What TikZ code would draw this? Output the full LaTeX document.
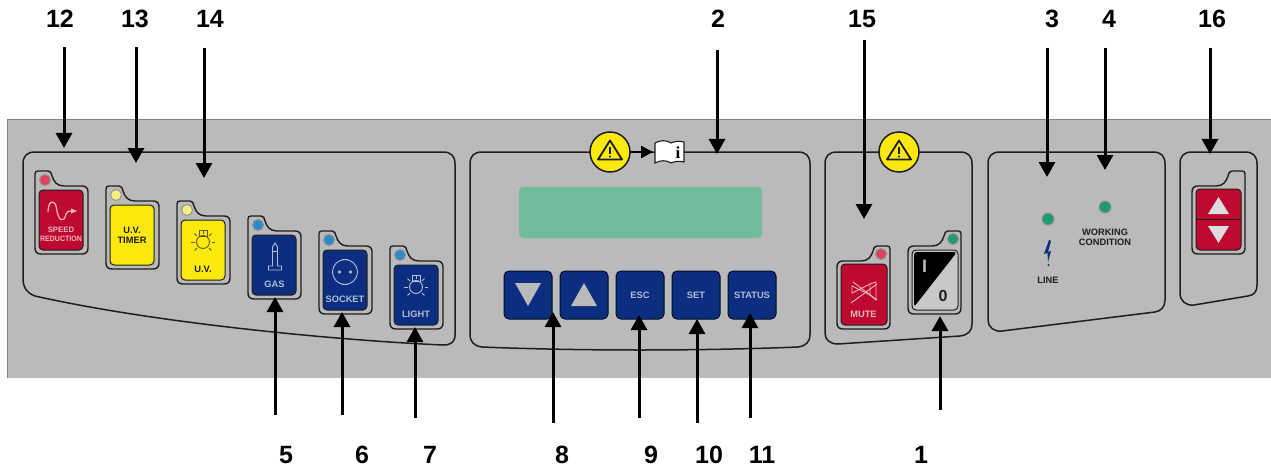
\documentclass[tikz,border=0pt]{standalone}
\usepackage{fontspec}
\setmainfont{Liberation Sans}
\newfontfamily\serifbf{Liberation Serif}
\usetikzlibrary{arrows.meta,calc}
\definecolor{panelgray}{HTML}{B9BAB9}
\definecolor{ink}{HTML}{1E1E1E}
\definecolor{btnred}{HTML}{BE0A30}
\definecolor{btnyellow}{HTML}{FBE80C}
\definecolor{btnnavy}{HTML}{0B2E80}
\definecolor{ledred}{HTML}{E2405F}
\definecolor{ledyellow}{HTML}{F6EE80}
\definecolor{ledblue}{HTML}{2A8ACB}
\definecolor{ledgreen}{HTML}{1C9C70}
\definecolor{lcdgreen}{HTML}{6FBB9C}
\definecolor{iconblue}{HTML}{B4BED4}
\definecolor{iconred}{HTML}{EDB4BC}
\tikzset{
  x=1pt,y=-1pt,
  arr/.style={draw=black,line width=3pt,-{Triangle[width=16pt,length=15pt]}},
  smallarr/.style={draw=black,line width=2.2pt,-{Triangle[width=12pt,length=12pt]}},
  num/.style={font=\fontsize{25}{25}\selectfont\bfseries,text=black,inner sep=0pt},
  group/.style={draw=ink,line width=1.5pt},
  keyline/.style={draw=ink,line width=1.4pt,fill=panelgray},
  btnface/.style={draw=ink,line width=1pt,rounded corners=4pt},
  navybtn/.style={fill=btnnavy,draw=black!70!btnnavy,line width=1pt,rounded corners=5pt},
  btxt/.style={font=\fontsize{9.3}{9.8}\selectfont\bfseries,inner sep=0pt,align=center},
  led/.style={circle,minimum size=#1,inner sep=0pt,draw=ink!25!panelgray,line width=1pt},
  warn/.style={circle,draw=ink,line width=1.5pt,fill=btnyellow,minimum size=40pt,inner sep=0pt},
  iconl/.style={line width=.9pt}
}
\newcommand\keyoutline{%
  \path[keyline] (0,3) .. controls (0,1) and (1,0) .. (3,0) -- (13,0) .. controls (16,0) and (16,2) .. (17,5)
    .. controls (19,11) and (22,15) .. (29,15) -- (47,15) .. controls (51,15) and (53,17) .. (53,21) -- (53,77)
    .. controls (53,81) and (51,83) .. (47,83) -- (6,83) .. controls (2,83) and (0,81) .. (0,77) -- cycle;
}
\newcommand\warnglyph[1]{%
  \draw[ink,line width=1.8pt,line join=round] ($(#1)+(0,-11.5)$) -- ($(#1)+(12,7.5)$) -- ($(#1)+(-12,7.5)$) -- cycle;
  \draw[ink,line width=2pt] ($(#1)+(0,-5)$) -- ($(#1)+(0,1.5)$);
  \fill[ink] ($(#1)+(0,4.5)$) circle (1.2pt);
}
\newcommand\bulb[3]{%
  \begin{scope}[shift={(#1,#2)},draw=#3,iconl]
    \draw (0,0) circle (6.5);
    \draw (-4,-6) rectangle (4,-12);
    \foreach \a in {0,45,135,180,225,270,315} {\draw (\a:8.5) -- (\a:12);}
  \end{scope}
}
\begin{document}
\begin{tikzpicture}
\path[use as bounding box,fill=white] (0,0) rectangle (1271,468);
\fill[panelgray] (7,119) rectangle (1271,378);
\draw[gray,line width=.6pt] (7,378) -- (7,119) -- (1271,119);

\draw[group] (35,152) -- (443,152) .. controls (451,152) and (455,156) .. (455,164) -- (455,335)
  .. controls (455,342) and (451,345) .. (443,345) .. controls (330,340) and (150,322) .. (35,296)
  .. controls (27,293) and (23,288) .. (23,278) -- (23,164) .. controls (23,156) and (27,152) .. (35,152) -- cycle;
\draw[group] (482,152) -- (798,152) .. controls (806,152) and (810,156) .. (810,164) -- (810,334)
  .. controls (810,342) and (806,346) .. (798,347) .. controls (700,351) and (580,351) .. (482,347)
  .. controls (474,346) and (470,342) .. (470,334) -- (470,164) .. controls (470,156) and (474,152) .. (482,152) -- cycle;
\draw[group] (837,152) -- (960,152) .. controls (968,152) and (972,156) .. (972,164) -- (972,324)
  .. controls (972,331) and (968,335) .. (960,336) -- (838,344) .. controls (830,344) and (825,340) .. (825,333)
  -- (825,164) .. controls (825,156) and (829,152) .. (837,152) -- cycle;
\draw[group] (1000,152) -- (1153,152) .. controls (1161,152) and (1165,156) .. (1165,164) -- (1165,300)
  .. controls (1165,307) and (1161,311) .. (1155,312) -- (1002,331) .. controls (994,332) and (988,327) .. (988,320)
  -- (988,164) .. controls (988,156) and (992,152) .. (1000,152) -- cycle;
\draw[group] (1192,152) -- (1245,152) .. controls (1253,152) and (1257,156) .. (1257,164) -- (1257,285)
  .. controls (1257,292) and (1254,295) .. (1248,296) -- (1194,305) .. controls (1186,306) and (1180,301) .. (1180,293)
  -- (1180,164) .. controls (1180,156) and (1184,152) .. (1192,152) -- cycle;

\begin{scope}[shift={(35,171)}]
  \keyoutline
  \draw[btnface,fill=btnred] (4,19) rectangle (48,79);
  \node[led=11pt,fill=ledred] (ledA) at (10,9) {};
  \draw[iconred,line width=1.2pt] (13,41) .. controls (13,29) and (20,28) .. (21.5,37) .. controls (23,50) and (29,53) .. (31,43) .. controls (32,40) and (34,40) .. (37,40);
  \fill[iconred] (36,37.5) -- (42,40) -- (36,42.5) -- cycle;
  \node[btxt,text=iconred,font=\fontsize{7.8}{9.2}\selectfont\bfseries] (tA) at (26,63) {SPEED\\\scalebox{.9}[1]{REDUCTION}};
\end{scope}
\begin{scope}[shift={(106,186)}]
  \keyoutline
  \draw[btnface,fill=btnyellow] (4,19) rectangle (48,79);
  \node[led=11pt,fill=ledyellow] (ledB) at (10,9) {};
  \node[btxt,text=ink] (tB) at (26,49) {U.V.\\TIMER};
\end{scope}
\begin{scope}[shift={(177,201)}]
  \keyoutline
  \draw[btnface,fill=btnyellow] (4,19) rectangle (48,79);
  \node[led=11pt,fill=ledyellow] (ledC) at (10,9) {};
  \bulb{26}{41}{ink!70!btnyellow}
  \node[btxt,text=ink] (tC) at (26,68) {U.V.};
\end{scope}
\begin{scope}[shift={(248,216)}]
  \keyoutline
  \draw[btnface,fill=btnnavy] (4,19) rectangle (48,79);
  \node[led=11pt,fill=ledblue] (ledD) at (10,9) {};
  \draw[iconblue,iconl] (24.5,31) -- (27,27) -- (29.5,31) -- (29.5,50) -- (33.5,50) -- (33.5,54) -- (20.5,54) -- (20.5,50) -- (24.5,50) -- cycle;
  \draw[iconblue,iconl] (24.5,35) -- (29.5,35);
  \node[btxt,text=iconblue] (tD) at (26.5,68) {GAS};
\end{scope}
\begin{scope}[shift={(319,231)}]
  \keyoutline
  \draw[btnface,fill=btnnavy] (4,19) rectangle (48,79);
  \node[led=11pt,fill=ledblue] (ledE) at (10,9) {};
  \draw[iconblue,iconl] (26,41) circle (12.5);
  \draw[iconblue,iconl] (23,28.5) -- (29,28.5) (23,53.5) -- (29,53.5);
  \draw[iconblue,iconl] (20.5,41) circle (1.2) (31.5,41) circle (1.2);
  \node[btxt,text=iconblue] (tE) at (26,68) {SOCKET};
\end{scope}
\begin{scope}[shift={(390,246)}]
  \keyoutline
  \draw[btnface,fill=btnnavy] (4,19) rectangle (48,79);
  \node[led=11pt,fill=ledblue] (ledF) at (10,9) {};
  \bulb{26}{41}{iconblue}
  \node[btxt,text=iconblue] (tF) at (26,68) {LIGHT};
\end{scope}

\node[warn] (warnA) at (610,152) {};
\warnglyph{warnA}
\path[fill=white,draw=ink,line width=1.1pt] (655,143) .. controls (660,140) and (667,140) .. (671,143)
  .. controls (675,141) and (680,141) .. (684,142) -- (684,162) .. controls (680,161) and (675,161) .. (671,163)
  .. controls (667,160) and (660,160) .. (655,163) -- cycle;
\node[inner sep=0pt,font=\serifbf\fontsize{17}{17}\selectfont\bfseries,text=black] (bookI) at (678,153) {i};
\coordinate (bookL) at (653,152);
\draw[smallarr] (warnA.east) -- (bookL);
\draw[fill=lcdgreen,draw=none,rounded corners=4pt] (519,187) rectangle (762,238);
\draw[navybtn] (504,271) rectangle (552,319);
\draw[navybtn] (560,271) rectangle (608,319);
\draw[navybtn] (616,271) rectangle (664,319);
\draw[navybtn] (672,271) rectangle (720,319);
\draw[navybtn] (728,271) rectangle (776,319);
\fill[panelgray] (515,283) -- (541,283) -- (528,306) -- cycle;
\fill[panelgray] (571,306) -- (597,306) -- (584,283) -- cycle;
\node[btxt,text=iconblue] (tEsc) at (640,295) {ESC};
\node[btxt,text=iconblue] (tSet) at (696,295) {SET};
\node[btxt,text=iconblue] (tStatus) at (752,295) {STATUS};

\node[warn] (warnB) at (899,152) {};
\warnglyph{warnB}
\begin{scope}[shift={(890,246)},xscale=-1]
  \keyoutline
  \draw[btnface,fill=btnred] (3,18) rectangle (49,79);
\end{scope}
\node[led=11pt,fill=ledred] (ledM) at (881,254) {};
\draw[iconred,iconl] (852,286) -- (870,295) -- (870,284) -- (852,293) -- cycle;
\draw[iconred,iconl] (870,284) -- (876,282) -- (876,300) -- (870,295);
\draw[iconred,iconl] (851,303) -- (877,284) (853,282) -- (877,300);
\node[btxt,text=iconred] (tMute) at (863.5,314) {MUTE};
\begin{scope}[shift={(961,231)},xscale=-1]
  \keyoutline
  \draw[draw=ink,line width=1pt,rounded corners=4pt,fill=panelgray!80!white] (3,19) rectangle (49,79);
  \fill[black,rounded corners=3pt] (47,21) -- (47,76) -- (4,21) -- cycle;
\end{scope}
\node[led=11pt,fill=ledgreen] (ledS) at (953,239) {};
\node[inner sep=0pt,font=\fontsize{18}{18}\selectfont\bfseries,text=panelgray] (tOne) at (924.5,266) {I};
\node[inner sep=0pt,font=\fontsize{16}{16}\selectfont\bfseries,text=ink] (tZero) at (943,296) {0};

\node[led=12pt,fill=ledgreen] (ledL) at (1048,219) {};
\node[led=12pt,fill=ledgreen] (ledW) at (1105,207) {};
\fill[btnnavy] (1049,240) -- (1044,254) -- (1047.5,253) -- (1048,262) -- (1051,251) -- (1048,252) -- (1051,241) -- cycle;
\fill[btnnavy] (1048.5,265) circle (1.2pt);
\node[btxt,text=ink] (tLine) at (1048,280) {LINE};
\node[btxt,text=ink] (tWork) at (1105,237) {WORKING\\CONDITION};

\begin{scope}[shift={(1245,171)},xscale=-1]
  \keyoutline
  \draw[btnface,fill=btnred] (4,18) rectangle (49,79);
  \draw[ink,line width=1pt] (4,48) -- (49,48);
\end{scope}
\fill[panelgray!50!white] (1218.5,197) -- (1229,214) -- (1208,214) -- cycle;
\fill[panelgray!50!white] (1218.5,243) -- (1229,226) -- (1208,226) -- cycle;

\foreach \n/\x/\ya/\yb in {12/64/47/148,13/136/47/163,14/204/48/178,2/717/50/154,15/864/40/219,3/1047/48/177,4/1105/48/170,16/1210/48/154,
  5/275/415/297,6/342/415/312,7/415/418/327,8/553/423/312,9/639/418/315,10/697/423/319,11/750/418/313,1/940/410/316} {
  \coordinate (s\n) at (\x,\ya);
  \coordinate (e\n) at (\x,\yb);
  \draw[arr] (s\n) -- (e\n);
}

\node[num] (n12) at (60,19) {12};
\node[num] (n13) at (135,19) {13};
\node[num] (n14) at (210,19) {14};
\node[num] (n2) at (718,19) {2};
\node[num] (n15) at (862,19) {15};
\node[num] (n3) at (1052,19) {3};
\node[num] (n4) at (1109,19) {4};
\node[num] (n16) at (1212,19) {16};
\node[num] (n5) at (286,455) {5};
\node[num] (n6) at (362,455) {6};
\node[num] (n7) at (430,455) {7};
\node[num] (n8) at (562,455) {8};
\node[num] (n9) at (651,455) {9};
\node[num] (n10) at (709,455) {10};
\node[num] (n11) at (762,455) {11};
\node[num] (n1) at (921,455) {1};
\end{tikzpicture}
\end{document}
